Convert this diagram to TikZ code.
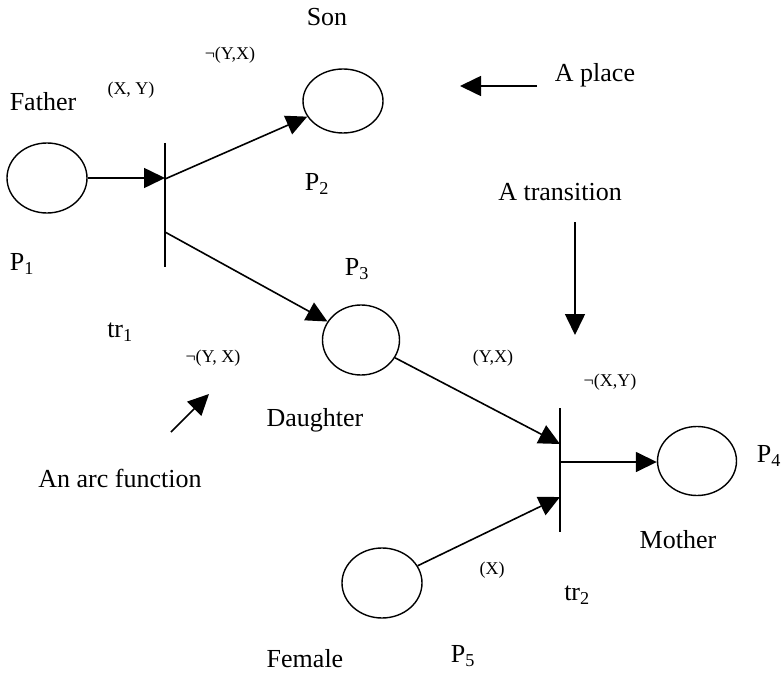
\documentclass[tikz,border=0pt]{standalone}
\usepackage{fontspec}
\setmainfont{Liberation Serif}
\usetikzlibrary{arrows.meta,shapes.geometric}
\begin{document}
\begin{tikzpicture}[x=1pt,y=-1pt,
  place/.style={draw,ellipse,line width=1.4pt,inner sep=0pt,minimum width=80pt,minimum height=70pt},
  trans/.style={draw=none,inner sep=0pt,minimum width=0pt,minimum height=124pt},
  bar/.style={line width=1.4pt},
  arc/.style={line width=1.6pt,-{Triangle[length=21pt,width=20pt]}},
  lbl/.style={inner sep=0pt,font=\fontsize{26}{30}\selectfont},
  small/.style={inner sep=0pt,font=\fontsize{18}{22}\selectfont}]
\useasboundingbox (0,0) rectangle (782,674);
% places
\node[place] (P1) at (47,178) {};
\node[place,minimum height=64pt] (P2) at (343,101) {};
\node[place,minimum width=77pt] (P3) at (361,340) {};
\node[place,minimum width=79pt,minimum height=69pt] (P4) at (697,461) {};
\node[place] (P5) at (382,583) {};
% transitions
\node[trans] (tr1) at (165,205) {};
\node[trans,minimum height=123pt] (tr2) at (560,470) {};
\draw[bar] (tr1.north) -- (tr1.south);
\draw[bar] (tr2.north) -- (tr2.south);
\coordinate (t1a) at (165,179);
\coordinate (t1b) at (165,232);
\coordinate (t2a) at (560,444);
\coordinate (t2b) at (560,462);
\coordinate (t2c) at (560,497);
% arcs
\draw[arc] (P1.east) -- (P1.east -| tr1);
\draw[arc] (t1a) -- (P2);
\draw[arc] (t1b) -- (P3);
\draw[arc] (P3) -- (t2a);
\draw[arc] (t2b) -- (P4.west |- t2b);
\draw[arc] (P5) -- (t2c);
% annotation arrows
\coordinate (ap1) at (537,86);
\coordinate (ap2) at (460,86);
\coordinate (at1) at (575,222);
\coordinate (at2) at (575,335);
\coordinate (af1) at (171,432);
\coordinate (af2) at (209,394);
\draw[arc] (ap1) -- (ap2);
\draw[arc] (at1) -- (at2);
\draw[arc] (af1) -- (af2);
% labels
\node[lbl] (lson) at (327,17) {Son};
\node[small] (l1) at (230,55) {¬(Y,X)};
\node[small] (l2) at (131,90) {(X, Y)};
\node[lbl] (lfather) at (43,102) {Father};
\node[lbl] (lp2) at (317,184) {P\textsubscript{2}};
\node[lbl] (lp1) at (22,264) {P\textsubscript{1}};
\node[lbl] (lp3) at (357,269) {P\textsubscript{3}};
\node[lbl] (ltr1) at (120,332) {tr\textsubscript{1}};
\node[small] (l3) at (213,358) {¬(Y, X)};
\node[lbl] (ldau) at (315,420) {Daughter};
\node[lbl] (larc) at (120,478) {An arc function};
\node[lbl] (lplace) at (595,75) {A place};
\node[lbl] (ltrans) at (560,192) {A transition};
\node[small] (l4) at (493,358) {(Y,X)};
\node[small] (l5) at (610,382) {¬(X,Y)};
\node[lbl] (lp4) at (769,456) {P\textsubscript{4}};
\node[lbl] (lmother) at (678,540) {Mother};
\node[small] (l6) at (492,570) {(X)};
\node[lbl] (ltr2) at (577,595) {tr\textsubscript{2}};
\node[lbl] (lfemale) at (305,659) {Female};
\node[lbl] (lp5) at (463,656) {P\textsubscript{5}};
\end{tikzpicture}
\end{document}
